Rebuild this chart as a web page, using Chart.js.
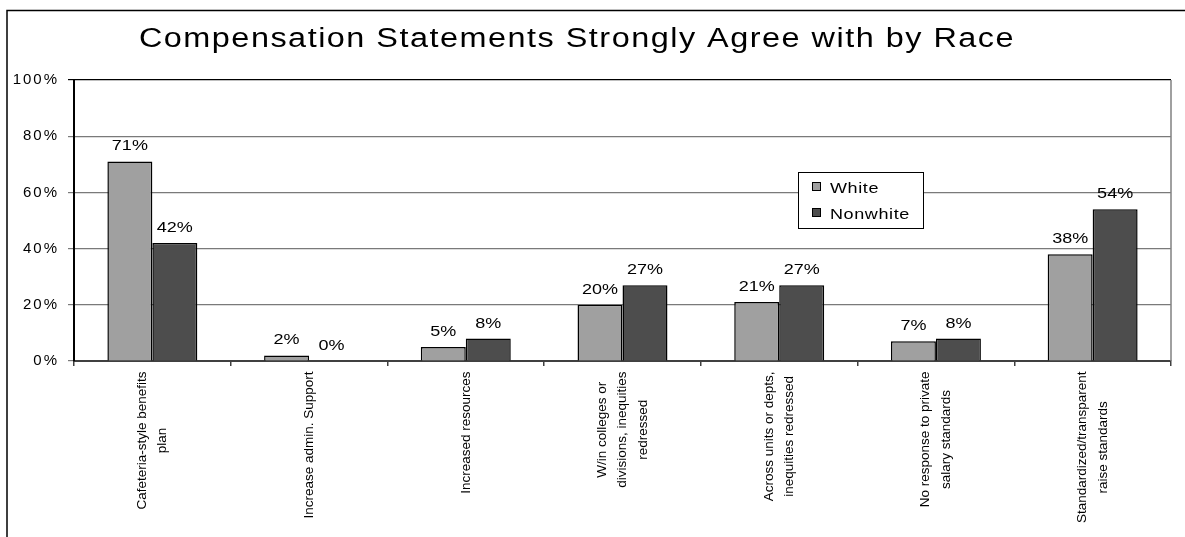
<!DOCTYPE html>
<html><head><meta charset="utf-8">
<script src="https://cdn.jsdelivr.net/npm/chart.js@4/dist/chart.umd.min.js"></script>
<style>html,body{margin:0;padding:0;background:#fff;} canvas{display:block;}</style>
</head><body>
<canvas id="c" width="1185" height="537"></canvas>
<script>
const chartTitle = 'Compensation Statements Strongly Agree with by Race';
const categories = [
  ['Cafeteria-style benefits', 'plan'],
  ['Increase admin. Support'],
  ['Increased resources'],
  ['W/in colleges or', 'divisions, inequities', 'redressed'],
  ['Across units or depts,', 'inequities redressed'],
  ['No response to private', 'salary standards'],
  ['Standardized/transparent', 'raise standards']
];
const seriesNames = ['White', 'Nonwhite'];
const whiteValues = [71, 2, 5, 20, 21, 7, 38];
const nonwhiteValues = [42, 0, 8, 27, 27, 8, 54];
const yTickValues = [0, 20, 40, 60, 80, 100];
const seriesColors = ['#a0a0a0', '#4d4d4d'];

const FONT = '"Liberation Sans", Arial, sans-serif';
const STRETCH = 1.2; // the reference text is horizontally widened

function drawWide(ctx, text, x, y, align) {
  ctx.save();
  ctx.translate(x, y);
  ctx.scale(STRETCH, 1);
  ctx.textAlign = align;
  ctx.fillText(text, 0, 0);
  ctx.restore();
}

const framePlugin = {
  id: 'frame',
  beforeDraw(chart) {
    const ctx = chart.ctx;
    ctx.save();
    ctx.fillStyle = '#fff';
    ctx.fillRect(0, 0, chart.width, chart.height);
    ctx.strokeStyle = '#000';
    ctx.lineWidth = 1.5;
    ctx.beginPath();
    ctx.moveTo(7, chart.height);
    ctx.lineTo(7, 10.5);
    ctx.lineTo(chart.width, 10.5);
    ctx.stroke();
    ctx.restore();
    ctx.letterSpacing = '2px';
  },
  beforeDatasetsDraw(chart) {
    const ctx = chart.ctx, a = chart.chartArea;
    ctx.save();
    ctx.letterSpacing = '0px';
    ctx.strokeStyle = '#808080';
    ctx.lineWidth = 1.5;
    ctx.beginPath();
    ctx.moveTo(a.right, a.top);
    ctx.lineTo(a.right, a.bottom);
    ctx.stroke();
    ctx.restore();
  },
  afterDatasetsDraw(chart) {
    const ctx = chart.ctx;
    ctx.save();
    ctx.letterSpacing = '0px';
    // value labels
    ctx.font = '15px ' + FONT;
    ctx.fillStyle = '#000';
    ctx.textBaseline = 'alphabetic';
    chart.data.datasets.forEach((ds, di) => {
      chart.getDatasetMeta(di).data.forEach((bar, i) => {
        drawWide(ctx, ds.data[i] + '%', bar.x, bar.y - 11, 'center');
      });
    });
    // legend
    const lx = 798, ly = 172, lw = 125, lh = 56;
    ctx.fillStyle = '#fff';
    ctx.fillRect(lx, ly, lw, lh);
    ctx.strokeStyle = '#000';
    ctx.lineWidth = 1;
    ctx.strokeRect(lx + 0.5, ly + 0.5, lw, lh);
    ctx.letterSpacing = '0.5px';
    chart.data.datasets.forEach((ds, di) => {
      const rowY = ly + 10 + di * 26;
      ctx.fillStyle = ds.backgroundColor;
      ctx.fillRect(lx + 14, rowY, 9, 9);
      ctx.strokeStyle = '#000';
      ctx.lineWidth = 1;
      ctx.strokeRect(lx + 14.5, rowY + 0.5, 8, 8);
      ctx.fillStyle = '#000';
      drawWide(ctx, ds.label, lx + 32, rowY + 10.5, 'left');
    });
    ctx.restore();
  },
  afterDraw(chart) {
    const ctx = chart.ctx;
    ctx.save();
    // category labels (rotated, centered multi-line)
    const xs = chart.scales.x;
    ctx.font = '13.5px ' + FONT;
    ctx.letterSpacing = '0px';
    ctx.fillStyle = '#000';
    ctx.textAlign = 'center';
    ctx.textBaseline = 'middle';
    const lineH = 20.5;
    const topY = chart.chartArea.bottom + 10.5;
    chart.data.labels.forEach((lines, i) => {
      const cx = xs.getPixelForValue(i);
      let maxW = 0;
      lines.forEach(l => { maxW = Math.max(maxW, ctx.measureText(l).width); });
      const cy = topY + maxW / 2;
      lines.forEach((l, j) => {
        const lxp = cx + (j - (lines.length - 1) / 2) * lineH;
        ctx.save();
        ctx.translate(lxp, cy);
        ctx.rotate(-Math.PI / 2);
        ctx.fillText(l, 0, 0);
        ctx.restore();
      });
    });
    // title
    ctx.font = '27px ' + FONT;
    ctx.letterSpacing = '1.25px';
    ctx.textBaseline = 'alphabetic';
    drawWide(ctx, chartTitle, 577, 47, 'center');
    ctx.restore();
    ctx.letterSpacing = '0px';
  }
};

new Chart(document.getElementById('c'), {
  type: 'bar',
  data: {
    labels: categories,
    datasets: [
      { label: seriesNames[0], data: whiteValues, backgroundColor: seriesColors[0], borderColor: '#000', borderWidth: 1.5 },
      { label: seriesNames[1], data: nonwhiteValues, backgroundColor: seriesColors[1], borderColor: '#000', borderWidth: 1.5 }
    ]
  },
  options: {
    responsive: false,
    devicePixelRatio: 1,
    animation: false,
    events: [],
    layout: { padding: { top: 80, right: 14, bottom: 0, left: 0 } },
    datasets: { bar: { categoryPercentage: 0.574, barPercentage: 1.0 } },
    plugins: { legend: { display: false }, title: { display: false }, tooltip: { enabled: false } },
    scales: {
      x: {
        grid: { offset: true, drawOnChartArea: false, drawTicks: true, tickLength: 5, color: '#404040', lineWidth: 1.5 },
        border: { color: '#404040', width: 2 },
        ticks: { display: false },
        afterFit(s) { s.height = 176; }
      },
      y: {
        min: 0, max: 100,
        afterBuildTicks(s) { s.ticks = yTickValues.map(v => ({ value: v })); },
        grid: {
          color: ctx => (ctx.tick && ctx.tick.value === 100) ? '#000' : '#7a7a7a',
          lineWidth: 1.2, tickLength: 6
        },
        border: { color: '#000', width: 2 },
        ticks: {
          font: { size: 15, family: FONT }, color: '#000', padding: 9,
          callback: v => v + '%'
        },
        afterFit(s) { s.width = 74; }
      }
    }
  },
  plugins: [framePlugin]
});
</script>
</body></html>
